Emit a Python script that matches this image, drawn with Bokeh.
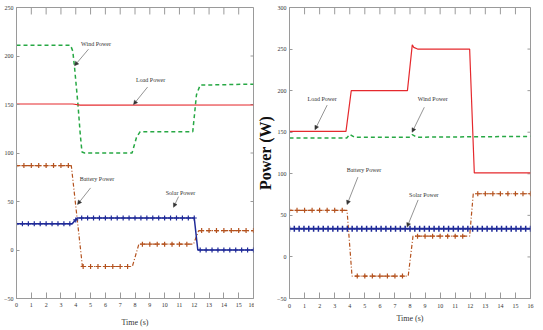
import numpy as np
from bokeh.plotting import figure
from bokeh.layouts import row
from bokeh.models import Range1d, FixedTicker, Arrow, NormalHead, Label
from bokeh.embed import file_html
from bokeh.resources import INLINE

# ---------------- axes ticks ----------------
x_ticks = list(range(0, 17))
yL_ticks = [-50, 0, 50, 100, 150, 200, 250]
yR_ticks = [-50, 0, 50, 100, 150, 200, 250, 300]

# ---------------- data: left panel ----------------
wind_L_t = [0, 3.65, 3.8, 3.92, 4.15, 4.3, 4.42, 4.6, 7.8, 8.1, 8.35, 11.9, 12.15, 12.4, 16]
wind_L_v = [211, 211, 205, 188, 150, 120, 101, 100, 100, 116, 122, 122, 160, 170, 171]
load_L_t = [0, 3.8, 4.3, 16]
load_L_v = [150.5, 150.5, 149.3, 149.5]
batt_L_t = [0, 3.7, 4.45, 7.82, 8.26, 11.95, 12.3, 16]
batt_L_v = [87, 87, -17, -17, 6, 6, 20, 20]
solar_L_t = [0, 3.76, 4.1, 12.0, 12.24, 16]
solar_L_v = [27, 27, 33, 33, 0, 0]
nan = float("nan")
# marker readings at the sampling instants (nan = no marker visible)
batt_L_mk = [87, 87, 87, 87, 87, 87, 87, 87, nan,
             -17, -17, -17, -17, -17, -17, -17, nan,
             6, 6, 6, 6, 6, 6, 6, nan,
             20, 20, 20, 20, 20, 20, 20, 20]
solar_L_mk = [27, 27, 27, 27, 27, 27, 27, 27, 27, 27, 31,
              33, 33, 33, 33, 33, 33, 33, 33, 33, 33, 33, 33, 33, 33, 33, 33, 33, 33, 33, 33,
              0, 0, 0, 0, 0, 0, 0, 0, 0, 0]

# ---------------- data: right panel ----------------
load_R_t = [0, 3.75, 4.1, 7.83, 8.15, 8.25, 8.5, 11.96, 12.27, 16]
load_R_v = [151, 151, 200, 200, 255, 252, 250, 250, 101, 101]
wind_R_t = [0, 3.8, 4.0, 4.3, 8.0, 8.15, 8.45, 12.2, 16]
wind_R_v = [143, 143, 147.5, 144, 144, 147, 144, 144.5, 145]
batt_R_t = [0, 3.82, 4.15, 7.88, 8.2, 11.96, 12.2, 16]
batt_R_v = [56, 56, -23, -23, 25, 25, 76, 76]
solar_R_t = [0, 16]
solar_R_v = [34, 34]
batt_R_mk = [56, 56, 56, 56, 56, 56, 56, 56, nan,
             -23, -23, -23, -23, -23, -23, -23, nan,
             25, 25, 25, 25, 25, 25, 25, nan,
             76, 76, 76, 76, 76, 76, 76, 76]
solar_R_mk = [34, 34, 34, 34, 34, 34, 34, 34, 34, 34, 34, 34, 34, 34, 34, 34, 34,
              34, 34, 34, 34, 34, 34, 34, 34, 34, 34, 34, 34, 34, 34, 34, 34, 34,
              34, 34, 34, 34, 34, 34, 34, 34, 34, 34, 34, 34, 34, 34, 34, 34, 34]

# sampling grids of the markers
batt_grid = np.arange(0, 16.001, 0.5)
solar_L_grid = np.arange(0, 16.001, 0.4)
solar_R_grid = np.arange(0, 16.001, 0.32)

GREEN = "#27a844"
RED = "#e5292d"
BROWN = "#b4521e"
BLUE = "#1f2a98"
AX = "#9a9a9a"
TXT = "#333333"
SERIF = "Liberation Serif"


def style(p, yticks, ymin, ymax, top_len, right_len):
    p.xgrid.visible = False
    p.ygrid.visible = False
    p.outline_line_color = AX
    p.background_fill_color = "white"
    p.border_fill_color = "white"
    xa = p.below[0]
    xa.ticker = FixedTicker(ticks=x_ticks)
    xa.major_tick_in = 6
    xa.major_tick_out = 0
    xa.minor_tick_line_color = None
    xa.axis_line_color = AX
    xa.major_tick_line_color = AX
    xa.major_label_text_font = SERIF
    xa.major_label_text_font_size = "6px"
    xa.major_label_text_color = TXT
    xa.major_label_standoff = 4
    xa.axis_label = "Time (s)"
    xa.axis_label_text_font = SERIF
    xa.axis_label_text_font_size = "8px"
    xa.axis_label_text_font_style = "normal"
    xa.axis_label_text_color = TXT
    xa.axis_label_standoff = 8
    ya = p.left[0]
    ya.ticker = FixedTicker(ticks=yticks)
    ya.major_tick_in = 3
    ya.major_tick_out = 0
    ya.minor_tick_line_color = None
    ya.axis_line_color = AX
    ya.major_tick_line_color = AX
    ya.major_label_text_font = SERIF
    ya.major_label_text_font_size = "6px"
    ya.major_label_text_color = TXT
    ya.major_label_standoff = 3
    # inward ticks on the top and right edges of the box (MATLAB style)
    p.segment(x0=x_ticks, y0=[ymax] * len(x_ticks), x1=x_ticks, y1=[ymax - top_len] * len(x_ticks),
              line_color=AX, line_width=1)
    p.segment(x0=[16] * len(yticks), y0=yticks, x1=[16 - right_len] * len(yticks), y1=yticks,
              line_color=AX, line_width=1)


def note(p, text, lx, ly, xs, ys, xe, ye):
    p.add_layout(Arrow(end=NormalHead(size=4, fill_color="#333333", line_color="#333333", line_width=0.5),
                       x_start=xs, y_start=ys, x_end=xe, y_end=ye,
                       line_color="#666666", line_width=0.7))
    p.add_layout(Label(x=lx, y=ly, text=text, text_font=SERIF, text_font_size="6px",
                       text_color=TXT, text_align="center", text_baseline="middle"))


# ---------------- left figure ----------------
pL = figure(width=254, height=330, x_range=Range1d(0, 16), y_range=Range1d(-50, 250),
            output_backend="svg", toolbar_location=None,
            min_border_left=16, min_border_right=1, min_border_top=7, min_border_bottom=32)
style(pL, yL_ticks, -50, 250, 7.2, 0.2)
pL.line(wind_L_t, wind_L_v, line_color=GREEN, line_width=1.5, line_dash="4 3")
pL.line(load_L_t, load_L_v, line_color=RED, line_width=1.2)
pL.line(batt_L_t, batt_L_v, line_color=BROWN, line_width=1.2, line_dash="4 2 1 2")
pL.scatter(batt_grid, batt_L_mk, marker="cross", size=5, line_color=BROWN, line_width=1.2)
pL.line(solar_L_t, solar_L_v, line_color=BLUE, line_width=1.5)
pL.scatter(solar_L_grid, solar_L_mk, marker="cross", size=5, line_color=BLUE, line_width=1.2)

note(pL, "Wind Power", 5.37, 212.5, 4.86, 207, 3.92, 190)
note(pL, "Load Power", 9.05, 175.5, 8.85, 168, 7.9, 150)
note(pL, "Battery Power", 5.43, 73.5, 5.0, 64, 4.12, 47)
note(pL, "Solar Power", 11.07, 59, 10.94, 55, 10.6, 44)

# ---------------- right figure ----------------
pR = figure(width=289, height=330, x_range=Range1d(0, 16), y_range=Range1d(-50, 300),
            output_backend="svg", toolbar_location=None,
            min_border_left=30, min_border_right=13, min_border_top=3, min_border_bottom=29)
style(pR, yR_ticks, -50, 300, 8.2, 0.2)
pR.yaxis[0].axis_label = "Power (W)"
pR.yaxis[0].axis_label_text_font = SERIF
pR.yaxis[0].axis_label_text_font_size = "16px"
pR.yaxis[0].axis_label_text_font_style = "bold"
pR.yaxis[0].axis_label_text_color = "#111111"
pR.yaxis[0].axis_label_standoff = 0
pR.below[0].major_label_standoff = 5
pR.below[0].axis_label_standoff = 3

pR.line(wind_R_t, wind_R_v, line_color=GREEN, line_width=1.5, line_dash="4 3")
pR.line(load_R_t, load_R_v, line_color=RED, line_width=1.2)
pR.line(batt_R_t, batt_R_v, line_color=BROWN, line_width=1.2, line_dash="4 2 1 2")
pR.scatter(batt_grid, batt_R_mk, marker="cross", size=5, line_color=BROWN, line_width=1.2)
pR.line(solar_R_t, solar_R_v, line_color=BLUE, line_width=1.8)
pR.scatter(solar_R_grid, solar_R_mk, marker="cross", size=6, line_color=BLUE, line_width=1.5)

note(pR, "Load Power", 2.17, 189.6, 2.5, 182.6, 1.69, 153)
note(pR, "Wind Power", 9.51, 189.6, 8.95, 180, 8.14, 150)
note(pR, "Battery Power", 4.94, 104, 4.54, 96, 3.82, 63)
note(pR, "Solar Power", 8.92, 74.5, 8.54, 68.6, 7.81, 36)

layout = row(pL, pR)
open("out.html", "w").write(file_html(layout, INLINE))
